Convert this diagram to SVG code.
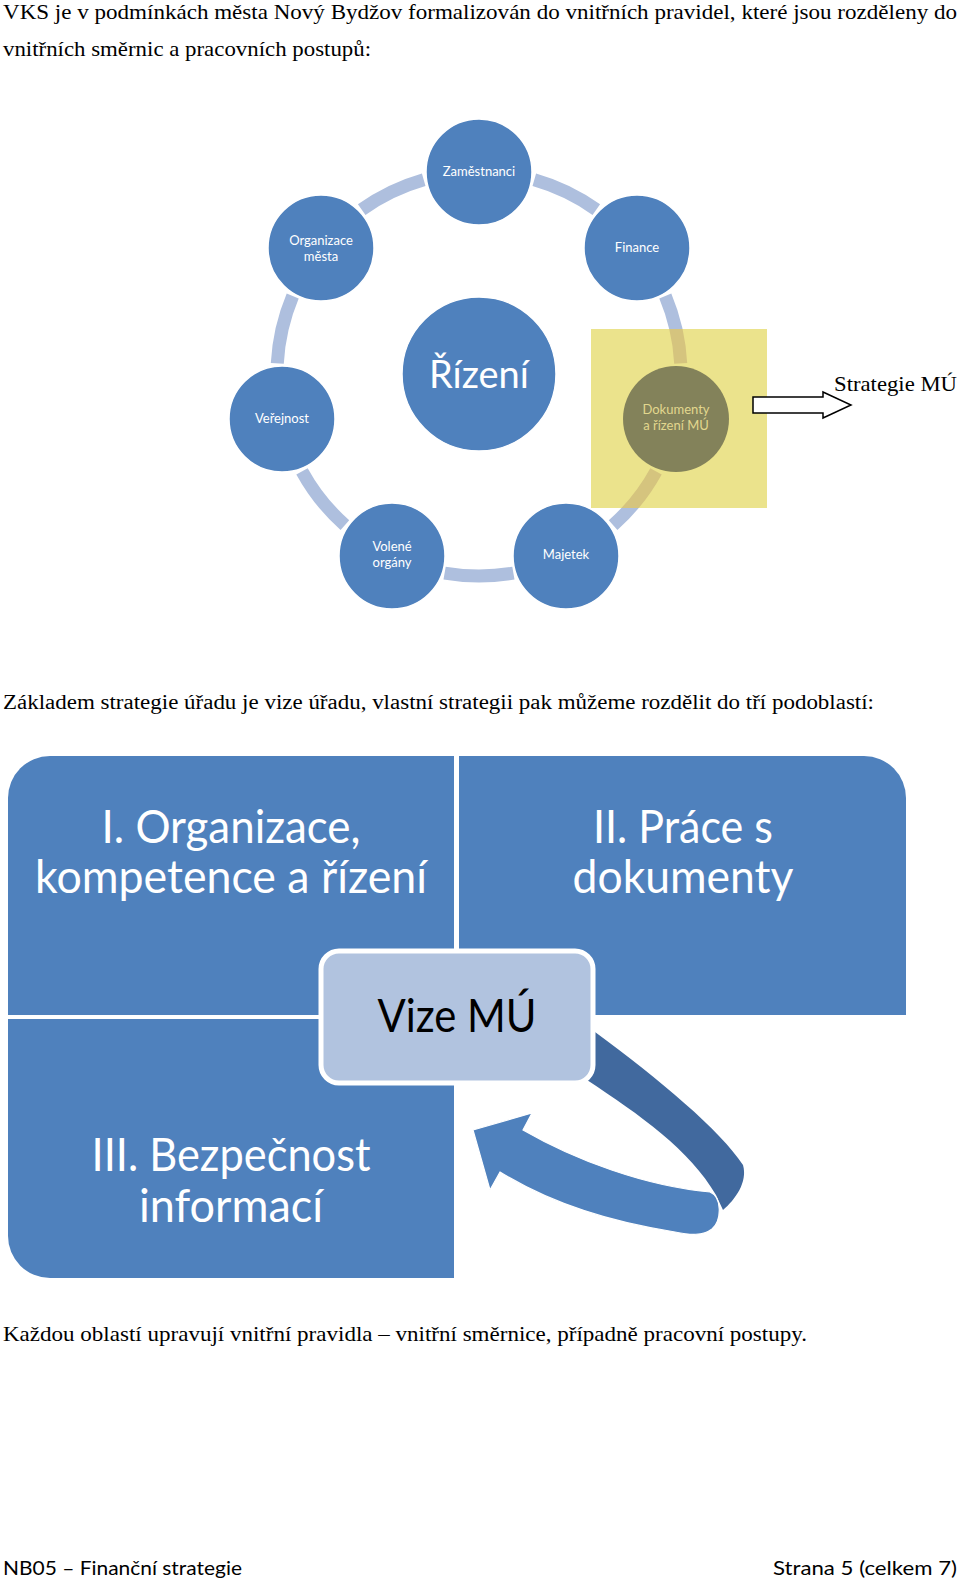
<svg xmlns="http://www.w3.org/2000/svg" width="960" height="1583" viewBox="0 0 960 1583">
<style>
.tnr{font-family:"Liberation Serif","Times New Roman",serif;fill:#000}
.cal{font-family:Lato,"Open Sans","Liberation Sans",sans-serif}
.node{fill:#4f81bd;stroke:#fff;stroke-width:1.5}
.nl{font-family:Lato,"Open Sans","Liberation Sans",sans-serif;font-size:13px;fill:#fff;text-anchor:middle}
.arc{fill:none;stroke:#aebfde;stroke-width:13}
.arct{fill:none;stroke:#d5c47e;stroke-width:13}
.quad{fill:#4f81bd}
.ql{font-family:Lato,"Open Sans","Liberation Sans",sans-serif;font-size:46px;fill:#fff;text-anchor:middle}
</style>
<defs>
<clipPath id="yc"><rect x="591" y="329" width="176" height="179"/></clipPath>
</defs>
<rect width="960" height="1583" fill="#fff"/>

<text class="tnr" x="3" y="19" font-size="22" textLength="954" lengthAdjust="spacingAndGlyphs">VKS je v podmínkách města Nový Bydžov formalizován do vnitřních pravidel, které jsou rozděleny do</text>
<text class="tnr" x="3" y="56" font-size="22" textLength="368" lengthAdjust="spacingAndGlyphs">vnitřních směrnic a pracovních postupů:</text>

<g id="connectors">
<path class="arc" d="M534.3,179.7 A202,202 0 0 1 596.3,209.6"/>
<path class="arc" d="M665.3,296 A202,202 0 0 1 680.7,363.4"/>
<path class="arc" d="M656,471.3 A202,202 0 0 1 613.1,525.1"/>
<path class="arc" d="M513.4,573.1 A202,202 0 0 1 444.6,573.1"/>
<path class="arc" d="M344.9,525.1 A202,202 0 0 1 302,471.3"/>
<path class="arc" d="M277.3,363.4 A202,202 0 0 1 292.7,296"/>
<path class="arc" d="M361.7,209.6 A202,202 0 0 1 423.7,179.7"/>
</g>

<g id="highlight">
<rect x="591" y="329" width="176" height="179" fill="#ebe38c"/>
<g clip-path="url(#yc)">
<path class="arct" d="M665.3,296 A202,202 0 0 1 680.7,363.4"/>
<path class="arct" d="M656,471.3 A202,202 0 0 1 613.1,525.1"/>
</g>
</g>

<g id="n-zamestnanci"><circle class="node" cx="479" cy="172" r="53"/><text class="nl" x="479" y="176">Zaměstnanci</text></g>
<g id="n-finance"><circle class="node" cx="637" cy="248" r="53"/><text class="nl" x="637" y="252">Finance</text></g>
<g id="n-dokumenty"><circle cx="676" cy="419" r="53" fill="#83825a"/><text class="nl" x="676" y="414" style="fill:#e2d78e">Dokumenty</text><text class="nl" x="676" y="430" style="fill:#e2d78e">a řízení MÚ</text></g>
<g id="n-majetek"><circle class="node" cx="566" cy="556" r="53"/><text class="nl" x="566" y="559">Majetek</text></g>
<g id="n-volene"><circle class="node" cx="392" cy="556" r="53"/><text class="nl" x="392" y="551">Volené</text><text class="nl" x="392" y="567">orgány</text></g>
<g id="n-verejnost"><circle class="node" cx="282" cy="419" r="53"/><text class="nl" x="282" y="423">Veřejnost</text></g>
<g id="n-organizace"><circle class="node" cx="321" cy="248" r="53"/><text class="nl" x="321" y="245">Organizace</text><text class="nl" x="321" y="261">města</text></g>
<g id="n-rizeni"><circle class="node" cx="479" cy="374" r="77"/><text class="nl" x="479" y="388" style="font-size:38px">Řízení</text></g>

<g id="strategie">
<path d="M753,397 L823,397 L823,392 L851,405 L823,418 L823,413 L753,413 Z" fill="#fff" stroke="#000" stroke-width="1.5"/>
<text class="tnr" x="834" y="391" font-size="22" textLength="123" lengthAdjust="spacingAndGlyphs">Strategie MÚ</text>
</g>

<text class="tnr" x="3" y="709" font-size="20.5" textLength="871" lengthAdjust="spacingAndGlyphs">Základem strategie úřadu je vize úřadu, vlastní strategii pak můžeme rozdělit do tří podoblastí:</text>

<g id="q1"><path class="quad" d="M8,798 A42,42 0 0 1 50,756 L454,756 L454,1015 L8,1015 Z"/>
<text class="ql" x="231" y="843" textLength="259" lengthAdjust="spacingAndGlyphs">I. Organizace,</text>
<text class="ql" x="231" y="893" textLength="392" lengthAdjust="spacingAndGlyphs">kompetence a řízení</text></g>
<g id="q2"><path class="quad" d="M459,756 L864,756 A42,42 0 0 1 906,798 L906,1015 L459,1015 Z"/>
<text class="ql" x="683" y="843" textLength="180" lengthAdjust="spacingAndGlyphs">II. Práce s</text>
<text class="ql" x="683" y="893" textLength="221" lengthAdjust="spacingAndGlyphs">dokumenty</text></g>
<g id="q3"><path class="quad" d="M8,1019 L454,1019 L454,1278 L50,1278 A42,42 0 0 1 8,1236 Z"/>
<text class="ql" x="231" y="1171" textLength="279" lengthAdjust="spacingAndGlyphs">III. Bezpečnost</text>
<text class="ql" x="231" y="1222" textLength="184" lengthAdjust="spacingAndGlyphs">informací</text></g>

<g id="cycle-arrow">
<path d="M595,1032 C660,1080 720,1130 743,1165 C748,1182 735,1200 723,1210 L716,1195 C690,1150 640,1115 587,1080 Z" fill="#41699e"/>
<path d="M473,1130 L532,1113 L523,1130 C575,1160 645,1186 710,1192 C722,1197 722,1220 712,1229 C703,1236 690,1235 675,1232 C610,1222 550,1203 500,1172 L490,1190 Z" fill="#4f81bd" stroke="#fff" stroke-width="1.2"/>
</g>

<g id="vize"><rect x="321" y="951" width="272" height="132" rx="18" fill="#b1c3df" stroke="#fff" stroke-width="5"/>
<text class="ql" x="457" y="1032" style="fill:#000" textLength="159" lengthAdjust="spacingAndGlyphs">Vize MÚ</text></g>

<text class="tnr" x="3" y="1341" font-size="21" textLength="804" lengthAdjust="spacingAndGlyphs">Každou oblastí upravují vnitřní pravidla – vnitřní směrnice, případně pracovní postupy.</text>

<text class="cal" x="3" y="1575" font-size="19" textLength="239" lengthAdjust="spacingAndGlyphs">NB05 – Finanční strategie</text>
<text class="cal" x="773" y="1575" font-size="19" textLength="184" lengthAdjust="spacingAndGlyphs">Strana 5 (celkem 7)</text>
</svg>
